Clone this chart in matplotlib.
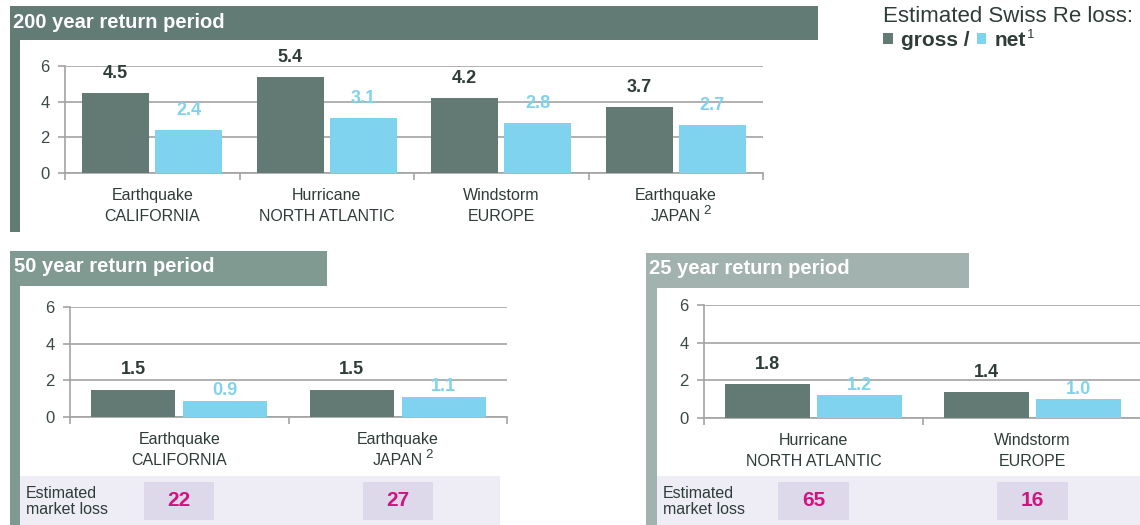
import numpy as np
import matplotlib
matplotlib.use("Agg")
import matplotlib.pyplot as plt
from matplotlib.patches import Rectangle
from matplotlib.transforms import blended_transform_factory

plt.rcParams['font.family'] = ['Liberation Sans', 'DejaVu Sans']

# data
cats_200 = ["Earthquake\nCALIFORNIA", "Hurricane\nNORTH ATLANTIC", "Windstorm\nEUROPE", "Earthquake\nJAPAN"]
gross_200 = [4.5, 5.4, 4.2, 3.7]
net_200 = [2.4, 3.1, 2.8, 2.7]

cats_50 = ["Earthquake\nCALIFORNIA", "Earthquake\nJAPAN"]
gross_50 = [1.5, 1.5]
net_50 = [0.9, 1.1]
market_50 = [22, 27]

cats_25 = ["Hurricane\nNORTH ATLANTIC", "Windstorm\nEUROPE"]
gross_25 = [1.8, 1.4]
net_25 = [1.2, 1.0]
market_25 = [65, 16]

GROSS = "#627A73"
NET = "#7FD3EE"
DARK = "#2E3D39"
GRID = "#A3A3A3"
MAGENTA = "#D4127E"

W, H = 1140, 525
fig = plt.figure(figsize=(W / 100, H / 100), dpi=100)


def rect(x0, y0, x1, y1, color):
    fig.patches.append(Rectangle((x0 / W, 1 - y1 / H), (x1 - x0) / W, (y1 - y0) / H,
                                 transform=fig.transFigure, color=color, lw=0, zorder=-1))


def ftext(x, y, s, **kw):
    fig.text(x / W, 1 - y / H, s, **kw)


def panel(box, cats, gross, net, net_pad):
    x0, y0, x1, y1 = box
    ax = fig.add_axes([x0 / W, 1 - y1 / H, (x1 - x0) / W, (y1 - y0) / H])
    n = len(cats)
    x = np.arange(n) + 0.5
    ax.bar(x - 0.21, gross, width=0.385, color=GROSS, zorder=3)
    ax.bar(x + 0.21, net, width=0.385, color=NET, zorder=3)
    for xi, g, v in zip(x, gross, net):
        ax.annotate(f"{g:.1f}", (xi - 0.21, g), xytext=(0, 8), textcoords="offset points",
                    ha="center", va="bottom", fontsize=13, fontweight="bold", color=DARK)
        ax.annotate(f"{v:.1f}", (xi + 0.21, v), xytext=(0, net_pad), textcoords="offset points",
                    ha="center", va="bottom", fontsize=13, fontweight="bold", color=NET)
    ax.set_xlim(0, n)
    ax.set_ylim(0, 6)
    ax.set_yticks([0, 2, 4, 6])
    ax.yaxis.grid(True, color=GRID, lw=1.2, zorder=0)
    ax.set_xticks([])
    ax.set_xticks(np.arange(n + 1), minor=True)
    ax.tick_params(axis="x", which="minor", length=5, color=GRID, width=1.2)
    ax.tick_params(axis="y", length=5, color=GRID, width=1.2, labelsize=12, labelcolor="#3C4A47", pad=6)
    for s in ["top", "right"]:
        ax.spines[s].set_visible(False)
    for s in ["left", "bottom"]:
        ax.spines[s].set_color(GRID)
        ax.spines[s].set_linewidth(1.2)
    ax.set_facecolor("none")
    # category labels, two lines each
    for xi, c in zip(x, cats):
        top, bottom = c.split("\n")
        kw = dict(textcoords="offset points", ha="center", va="center", fontsize=11.5,
                  color=DARK, annotation_clip=False)
        ax.annotate(top, (xi, 0), xytext=(0, -16.5), **kw)
        ax.annotate(bottom, (xi, 0), xytext=(0, -31), **kw)
        if bottom == "JAPAN":
            # footnote mark
            ax.annotate("2", (xi, 0), xytext=(19.5, -27), textcoords="offset points",
                        ha="left", va="center", fontsize=9.5, color=DARK, annotation_clip=False)
    return ax


def market(ax, vals, band):
    bx0, by0, bx1, by1 = band
    rect(bx0, by0, bx1, by1, "#EEECF5")
    ftext(bx0 + 6, (by0 + by1) / 2 + 1, "Estimated\nmarket loss", fontsize=11.5, color=DARK,
          va="center", ha="left", linespacing=1.15)
    tr = blended_transform_factory(ax.transData, fig.transFigure)
    for xi, v in zip(np.arange(len(vals)) + 0.5, vals):
        ax.add_patch(Rectangle((xi - 0.16, 1 - 520 / H), 0.32, 38 / H, transform=tr,
                               color="#DDD9EA", lw=0, clip_on=False, zorder=1))
        ax.text(xi, 1 - 501 / H, str(v), transform=tr, ha="center", va="center",
                fontsize=15, fontweight="bold", color=MAGENTA, zorder=2)


# top panel frame
rect(10, 6, 818, 40, "#627B74")
rect(10, 40, 20, 232, "#627B74")
ftext(13, 22, "200 year return period", fontsize=14.5, fontweight="bold", color="white", va="center")
panel((65, 66, 763, 173), cats_200, gross_200, net_200, 8)

# 50 year panel
rect(10, 251, 327, 286, "#809A92")
rect(10, 286, 20, 525, "#809A92")
ftext(14, 267, "50 year return period", fontsize=14.5, fontweight="bold", color="white", va="center")
ax50 = panel((70, 307, 507, 417), cats_50, gross_50, net_50, 1)
market(ax50, market_50, (20, 476, 500, 525))

# 25 year panel
rect(646, 253, 969, 288, "#A2B2AE")
rect(646, 288, 657, 525, "#A2B2AE")
ftext(649, 269, "25 year return period", fontsize=14.5, fontweight="bold", color="white", va="center")
ax25 = panel((704, 305, 1142, 418), cats_25, gross_25, net_25, 1)
market(ax25, market_25, (657, 476, 1140, 525))

# legend
ftext(883, 17, "Estimated Swiss Re loss:", fontsize=16, color=DARK, va="center")
rect(883, 33, 893, 44, GROSS)
ftext(901, 40, "gross /", fontsize=15, fontweight="bold", color=DARK, va="center")
rect(977, 33, 986, 44, NET)
ftext(995, 40, "net", fontsize=15, fontweight="bold", color=DARK, va="center")
ftext(1027, 35, "1", fontsize=9.5, color=DARK, va="center")

fig.savefig("out.png", dpi=100)
